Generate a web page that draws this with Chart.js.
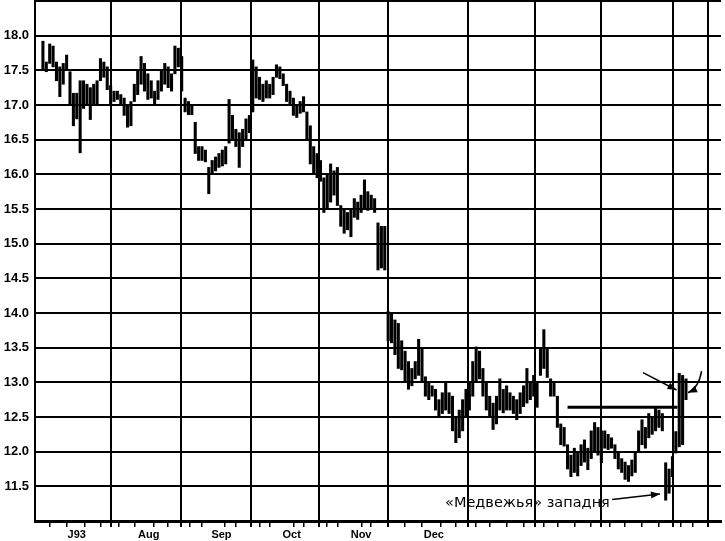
<!DOCTYPE html>
<html>
<head>
<meta charset="utf-8">
<script src="https://cdn.jsdelivr.net/npm/chart.js@4.4.1/dist/chart.umd.min.js"></script>
<style>
  html, body { margin: 0; padding: 0; background: #fff; }
  #wrap { width: 725px; height: 541px; position: relative; }
</style>
</head>
<body>
<div id="wrap"><canvas id="c" width="725" height="541"></canvas></div>
<script>
// ---- data (trading-day bars, Jul 1993 .. Apr 1994) ----
const highs = [
  17.92,17.62,17.88,17.85,17.62,17.55,17.60,17.72,17.48,17.17,
  17.17,17.35,17.35,17.30,17.25,17.30,17.35,17.67,17.62,17.55,
  17.28,17.20,17.20,17.15,17.10,17.00,17.05,17.30,17.50,17.70,
  17.60,17.45,17.35,17.20,17.35,17.50,17.60,17.55,17.45,17.85,
  17.82,17.70,17.10,17.05,17.00,16.75,16.40,16.40,16.35,16.10,
  16.20,16.25,16.30,16.35,16.40,17.08,16.85,16.65,16.60,16.65,
  16.80,16.85,17.65,17.55,17.40,17.30,17.35,17.30,17.40,17.58,
  17.55,17.45,17.30,17.20,17.10,17.00,17.05,17.12,16.90,16.70,
  16.40,16.30,16.20,15.95,16.00,16.15,16.05,16.10,15.55,15.50,
  15.45,15.50,15.65,15.60,15.70,15.92,15.75,15.70,15.65,15.30,
  15.25,15.25,14.02,14.00,13.90,13.85,13.60,13.45,13.30,13.20,
  13.30,13.62,13.50,13.08,13.00,12.95,12.90,12.75,12.85,13.00,
  12.85,12.80,12.50,12.60,12.75,12.90,13.00,13.30,13.51,13.45,
  13.20,13.00,12.80,12.70,12.80,13.05,12.90,12.95,12.85,12.80,
  12.75,12.85,12.95,13.20,13.00,13.10,13.00,13.50,13.76,13.50,
  13.05,13.00,12.80,12.40,12.35,12.10,11.95,12.05,12.00,12.10,
  12.17,12.05,12.30,12.42,12.35,12.30,12.30,12.25,12.20,12.10,
  11.99,11.90,11.85,11.80,11.88,12.00,12.30,12.46,12.35,12.55,
  12.50,12.63,12.60,12.55,11.84,11.75,11.93,12.29,13.13,13.10,
  13.05
];
const lows = [
  17.50,17.48,17.60,17.55,17.35,17.12,17.30,17.50,17.00,16.70,
  16.80,16.31,16.95,17.00,16.79,17.00,17.00,17.35,17.40,17.22,
  17.00,17.05,17.08,17.00,16.85,16.68,16.70,17.05,17.15,17.30,
  17.20,17.08,17.10,17.00,17.08,17.20,17.30,17.25,17.20,17.45,
  17.55,17.20,16.90,16.86,16.86,16.30,16.20,16.20,16.18,15.72,
  16.00,16.05,16.10,16.12,16.15,16.45,16.50,16.40,16.10,16.40,
  16.50,16.60,16.90,17.10,17.08,17.05,17.10,17.10,17.15,17.40,
  17.38,17.28,17.05,17.00,16.85,16.82,16.88,16.90,16.50,16.15,
  16.00,15.95,15.90,15.45,15.50,15.60,15.70,15.55,15.25,15.15,
  15.20,15.10,15.38,15.35,15.45,15.50,15.48,15.50,15.45,14.62,
  14.65,14.62,13.60,13.57,13.40,13.20,13.18,13.00,12.90,12.95,
  13.05,13.10,13.00,12.80,12.75,12.80,12.60,12.50,12.55,12.60,
  12.55,12.30,12.13,12.20,12.30,12.50,12.60,12.80,13.00,13.05,
  12.80,12.60,12.50,12.32,12.40,12.60,12.56,12.60,12.60,12.55,
  12.46,12.55,12.65,12.70,12.75,12.80,12.64,13.10,13.20,13.07,
  12.80,12.80,12.35,12.10,12.08,11.75,11.64,11.70,11.65,11.80,
  11.85,11.74,11.90,12.00,11.95,11.84,12.05,12.03,12.05,11.90,
  11.75,11.70,11.60,11.57,11.65,11.70,12.00,12.10,12.05,12.20,
  12.25,12.30,12.35,12.30,11.30,11.40,11.64,11.98,12.07,12.10,
  12.75
];
// month boundaries (in trading-day units) and their labels
const monthStarts = [-0.5, 20.5, 42, 63.5, 83.5, 104.5, 126.5, 146.5, 165.5, 187.6, 198.5];
const monthLabels = ['J93', 'Aug', 'Sep', 'Oct', 'Nov', 'Dec'];
const yTickLabels = ['11.5','12.0','12.5','13.0','13.5','14.0','14.5','15.0','15.5','16.0','16.5','17.0','17.5','18.0'];
// annotation: resistance line, arrows, caption
const resistance = { from: 155, to: 187.5, value: 12.64 };
const noteText = '«Медвежья» западня';
const noteAt = { x: 167.5, y: 11.26 };
const noteArrow = [[168.2, 11.31], [182.3, 11.39]];
const arrowA = [[177.3, 13.14], [187.2, 12.89]];
const arrowB = [[194.6, 13.16], [193.8, 12.92], [190.6, 12.85]];

// ---- build ----
const bars = highs.map((h, i) => ({ x: i, y: [lows[i], h] }));
const midMonths = monthLabels.map((_, k) => (monthStarts[k] + monthStarts[k + 1]) / 2);
const weekTicks = [];
for (let d = 4.5; d < 198.5; d += 5) weekTicks.push(d);
const isMonth = v => monthStarts.some(m => Math.abs(m - v) < 1e-6);
const midIndex = v => midMonths.findIndex(m => Math.abs(m - v) < 1e-6);
const allXTicks = [...new Set([...monthStarts, ...midMonths, ...weekTicks])].sort((a, b) => a - b);

function arrowHead(ctx, x0, y0, x1, y1) {
  const ang = Math.atan2(y1 - y0, x1 - x0), L = 9, W = 3.5;
  ctx.beginPath();
  ctx.moveTo(x1, y1);
  ctx.lineTo(x1 - L * Math.cos(ang) + W * Math.sin(ang), y1 - L * Math.sin(ang) - W * Math.cos(ang));
  ctx.lineTo(x1 - L * Math.cos(ang) - W * Math.sin(ang), y1 - L * Math.sin(ang) + W * Math.cos(ang));
  ctx.closePath();
  ctx.fill();
}

const notes = {
  id: 'notes',
  afterDatasetsDraw(chart) {
    const { ctx, scales: { x, y } } = chart;
    const P = p => [x.getPixelForValue(p[0]), y.getPixelForValue(p[1])];
    ctx.save();
    ctx.strokeStyle = '#000';
    ctx.fillStyle = '#000';
    // resistance line
    ctx.lineWidth = 3;
    ctx.beginPath();
    ctx.moveTo(x.getPixelForValue(resistance.from), y.getPixelForValue(resistance.value));
    ctx.lineTo(x.getPixelForValue(resistance.to), y.getPixelForValue(resistance.value));
    ctx.stroke();
    // straight arrows
    ctx.lineWidth = 1.5;
    [noteArrow, arrowA].forEach(a => {
      const [p0, p1] = [P(a[0]), P(a[1])];
      ctx.beginPath(); ctx.moveTo(p0[0], p0[1]); ctx.lineTo(p1[0], p1[1]); ctx.stroke();
      arrowHead(ctx, p0[0], p0[1], p1[0], p1[1]);
    });
    // curved arrow
    const [b0, b1, b2] = arrowB.map(P);
    ctx.beginPath(); ctx.moveTo(b0[0], b0[1]); ctx.quadraticCurveTo(b1[0], b1[1], b2[0], b2[1]); ctx.stroke();
    arrowHead(ctx, b1[0], b1[1], b2[0], b2[1]);
    // caption
    ctx.font = '14.5px "DejaVu Sans"';
    ctx.textAlign = 'right';
    ctx.textBaseline = 'middle';
    ctx.fillText(noteText, x.getPixelForValue(noteAt.x), y.getPixelForValue(noteAt.y));
    ctx.restore();
  }
};

new Chart(document.getElementById('c'), {
  type: 'bar',
  data: {
    datasets: [{
      data: bars,
      backgroundColor: '#000',
      borderWidth: 0,
      barThickness: 2.4,
      grouped: false
    }]
  },
  options: {
    responsive: false,
    animation: false,
    layout: { padding: { top: 1, right: 4, left: 0, bottom: 0 } },
    plugins: { legend: { display: false }, tooltip: { enabled: false } },
    scales: {
      x: {
        type: 'linear',
        min: -0.5,
        max: 198.5,
        afterBuildTicks: s => { s.ticks = allXTicks.map(v => ({ value: v })); },
        afterFit: s => { s.height = 20; s.paddingLeft = 0; s.paddingRight = 0; },
        grid: {
          color: c => (c.tick && isMonth(c.tick.value)) ? '#000' : 'rgba(0,0,0,0)',
          tickColor: c => (c.tick && midIndex(c.tick.value) >= 0 && !isMonth(c.tick.value) && !weekTicks.includes(c.tick.value)) ? 'rgba(0,0,0,0)' : '#000',
          lineWidth: c => (c.tick && isMonth(c.tick.value)) ? 2 : 1.5,
          tickLength: 6
        },
        border: { display: true, color: '#000', width: 3 },
        ticks: {
          autoSkip: false,
          maxRotation: 0,
          padding: 1,
          color: '#000',
          font: { family: '"Liberation Sans", Arial, sans-serif', size: 11, weight: 'bold' },
          callback: v => { const k = midIndex(v); return k >= 0 ? monthLabels[k] : ''; }
        }
      },
      y: {
        min: 11,
        max: 18.5,
        afterFit: s => { s.width = 35; s.paddingTop = 0; s.paddingBottom = 0; },
        grid: { color: '#000', lineWidth: 2, drawTicks: false },
        border: { display: true, color: '#000', width: 2 },
        ticks: {
          stepSize: 0.5,
          padding: 6,
          color: '#000',
          font: { family: '"Liberation Sans", Arial, sans-serif', size: 13, weight: 'bold' },
          callback: v => { const s = Number(v).toFixed(1); return yTickLabels.includes(s) ? s : ''; }
        }
      }
    }
  },
  plugins: [notes]
});
</script>
</body>
</html>
